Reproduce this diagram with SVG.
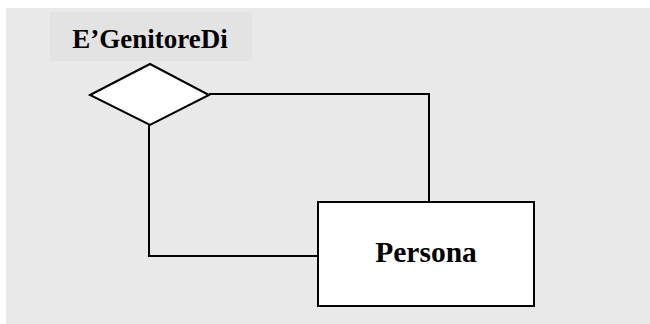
<svg xmlns="http://www.w3.org/2000/svg" width="650" height="324" viewBox="0 0 650 324">
<style>
.ln{fill:none;stroke:#000;stroke-width:2}
.sh{fill:#fff;stroke:#000;stroke-width:2}
.t{font-family:"Liberation Serif","Times New Roman",serif;font-weight:bold;fill:#000}
</style>
<rect x="6" y="8" width="644" height="316" fill="#e9e9e9"/>
<g id="label-box">
<rect x="50" y="12" width="202" height="49" fill="#e3e3e3"/>
</g>
<g id="connectors">
<polyline class="ln" points="209,94 429,94 429,203"/>
<polyline class="ln" points="149,125 149,256 318,256"/>
</g>
<g id="relationship">
<polygon class="sh" points="90,95 150,64 209,95 150,125"/>
<text class="t" x="150" y="48" font-size="27" text-anchor="middle">E’GenitoreDi</text>
</g>
<g id="persona">
<rect class="sh" x="318" y="202" width="216" height="104"/>
<text class="t" x="426" y="262" font-size="29.5" text-anchor="middle">Persona</text>
</g>
</svg>
